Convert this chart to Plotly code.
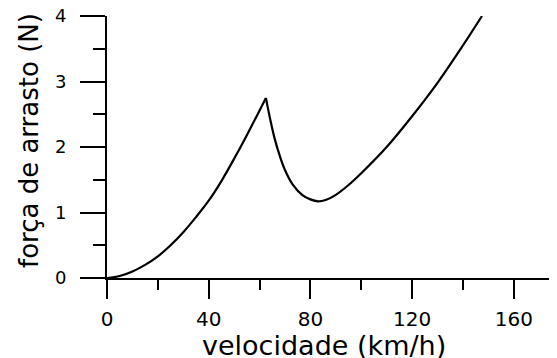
import plotly.graph_objects as go

# rising branch
v_rise = [0, 5, 10, 15, 20, 25, 30, 35, 40, 45, 50, 55, 62.5]
f_rise = [0, 0.03, 0.10, 0.20, 0.33, 0.50, 0.70, 0.93, 1.18, 1.48, 1.82, 2.18, 2.75]

# falling / second branch
v_fall = [62.5, 64, 66, 68, 70, 73, 77, 80, 83, 86, 90, 95, 100, 110, 120, 130, 140, 147.5]
f_fall = [2.75, 2.46, 2.12, 1.86, 1.65, 1.43, 1.26, 1.20, 1.17, 1.19, 1.27, 1.42, 1.60, 2.00, 2.47, 2.98, 3.55, 4.0]

x_ticks = [0, 40, 80, 120, 160]
y_ticks = [0, 1, 2, 3, 4]
x_minor = [20, 60, 100, 140]
y_minor = [0.5, 1.5, 2.5, 3.5]

FONT = "DejaVu Sans"
PAGE_PAD = 8  # default body margin of the html page

fig = go.Figure()
for xs, ys in [(v_rise, f_rise), (v_fall, f_fall)]:
    fig.add_trace(go.Scatter(x=xs, y=ys, mode="lines",
                             line=dict(color="black", width=2.2, shape="spline", smoothing=1.0),
                             showlegend=False, hoverinfo="skip"))

fig.update_layout(
    width=557 - PAGE_PAD, height=358 - PAGE_PAD,
    margin=dict(l=107 - PAGE_PAD, r=0, t=16 - PAGE_PAD, b=80, autoexpand=False),
    paper_bgcolor="white", plot_bgcolor="white",
    font=dict(family=FONT, color="black"),
)
fig.update_xaxes(
    range=[0, 177], tickmode="array", tickvals=x_ticks, ticktext=[str(t) for t in x_ticks],
    showgrid=False, zeroline=False, showline=True, linecolor="black", linewidth=2,
    ticks="outside", ticklen=19, tickwidth=2, tickcolor="black",
    tickfont=dict(size=20, family=FONT, color="black"), ticklabelstandoff=3,
    ticklabeloverflow="allow",
    minor=dict(ticks="outside", ticklen=10, tickwidth=2, tickcolor="black",
               tickmode="array", tickvals=x_minor, showgrid=False),
)
fig.update_yaxes(
    range=[0, 4], tickmode="array", tickvals=y_ticks, ticktext=[str(t) for t in y_ticks],
    showgrid=False, zeroline=False, showline=True, linecolor="black", linewidth=2,
    ticks="outside", ticklen=25, tickwidth=2, tickcolor="black",
    tickfont=dict(size=18, family=FONT, color="black"), ticklabelstandoff=10,
    ticklabeloverflow="allow",
    minor=dict(ticks="outside", ticklen=12, tickwidth=2, tickcolor="black",
               tickmode="array", tickvals=y_minor, showgrid=False),
)
fig.add_annotation(text="velocidade (km/h)", xref="paper", yref="paper", x=0.5, y=0,
                   xanchor="center", yanchor="middle", xshift=-8, yshift=-67, showarrow=False,
                   font=dict(size=27, family=FONT, color="black"))
fig.add_annotation(text="força de arrasto (N)", xref="paper", yref="paper", x=0, y=0.5,
                   xanchor="center", yanchor="middle", xshift=-78, yshift=6, textangle=-90,
                   showarrow=False, font=dict(size=26, family=FONT, color="black"))

fig.write_html("out.html")
